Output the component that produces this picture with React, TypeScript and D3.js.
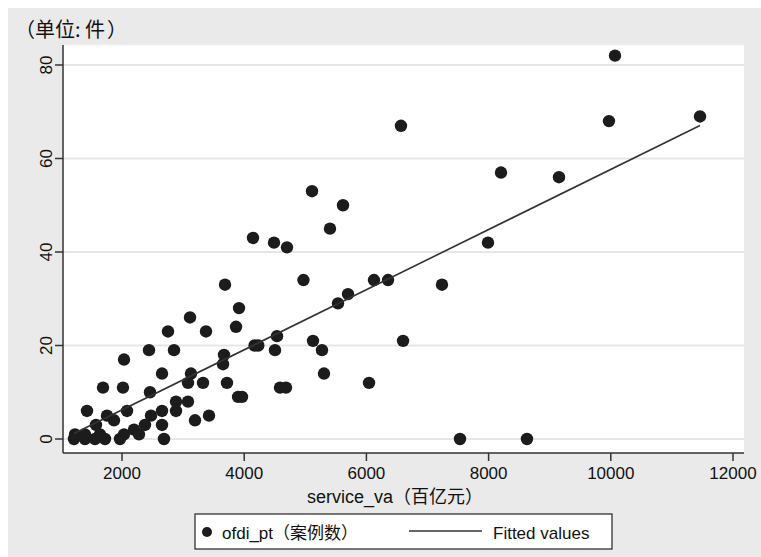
import React from 'react';
import * as d3 from 'd3';

// service_va (百亿元) and ofdi_pt (案例数)
const serviceVa = [
  1214, 1231, 1394, 1394, 1558, 1574, 1640, 1722, 1427, 1689,
  1754, 1869, 1967, 2033, 2016, 2033, 2082, 2196, 2278, 2376,
  2458, 2475, 2442, 2655, 2655, 2655, 2687, 2753, 2851, 2884,
  2884, 3080, 3080, 3129, 3113, 3195, 3326, 3375, 3424, 3653,
  3669, 3686, 3718, 3866, 3900, 3964, 3915, 4144, 4170, 4230,
  4488, 4504, 4537, 4586, 4684, 4700, 4970, 5110, 5126, 5273,
  5306, 5404, 5535, 5617, 5699, 6043, 6124, 6354, 6566, 6600,
  7237, 7532, 7990, 8203, 8628, 9152, 9970, 10069, 11460,
];
const ofdiPt = [
  0, 1, 0, 1, 0, 3, 1, 0, 6, 11,
  5, 4, 0, 1, 11, 17, 6, 2, 1, 3,
  10, 5, 19, 3, 6, 14, 0, 23, 19, 8,
  6, 8, 12, 14, 26, 4, 12, 23, 5, 16,
  18, 33, 12, 24, 9, 9, 28, 43, 20, 20,
  42, 19, 22, 11, 11, 41, 34, 53, 21, 19,
  14, 45, 29, 50, 31, 12, 34, 34, 67, 21,
  33, 0, 42, 57, 0, 56, 68, 82, 69,
];

const xTicks = [2000, 4000, 6000, 8000, 10000, 12000];
const yTicks = [0, 20, 40, 60, 80];

const W = 761;
const H = 557;
const plot = { left: 63, right: 744, top: 45, bottom: 453 };
const font = '"Liberation Sans", Arial, sans-serif';
const cjk = '"Noto Sans CJK SC", sans-serif';

export default function App() {
  const x = d3.scaleLinear().domain([2000, 12000]).range([122, 733]);
  const y = d3.scaleLinear().domain([0, 80]).range([439, 65]);

  // linear fit (Stata lfit)
  const mx = d3.mean(serviceVa)!;
  const my = d3.mean(ofdiPt)!;
  let sxy = 0;
  let sxx = 0;
  serviceVa.forEach((v, i) => {
    sxy += (v - mx) * (ofdiPt[i] - my);
    sxx += (v - mx) * (v - mx);
  });
  const slope = sxy / sxx;
  const icpt = my - slope * mx;
  const [x0, x1] = d3.extent(serviceVa) as [number, number];
  const fitLine = d3.line<number>()
    .x(d => x(d))
    .y(d => y(icpt + slope * d))([x0, x1]);

  return (
    <svg width={W} height={H} style={{ position: 'absolute', left: 0, top: 0 }}>
      <rect x={0} y={0} width={W} height={H} fill="#ffffff" />
      <rect x={8} y={8} width={W - 8} height={H - 8} fill="#eaeaea" />
      <rect x={plot.left} y={plot.top} width={plot.right - plot.left} height={plot.bottom - plot.top} fill="#ffffff" />

      {yTicks.map(t => (
        <line key={'g' + t} x1={plot.left} x2={plot.right} y1={y(t)} y2={y(t)} stroke="#e6e6e6" strokeWidth={2} />
      ))}

      {/* axes */}
      <line x1={plot.left} x2={plot.left} y1={plot.top} y2={plot.bottom} stroke="#333" strokeWidth={1.5} />
      <line x1={plot.left} x2={plot.right} y1={plot.bottom} y2={plot.bottom} stroke="#333" strokeWidth={1.5} />

      {yTicks.map(t => (
        <g key={'y' + t}>
          <line x1={plot.left - 8} x2={plot.left} y1={y(t)} y2={y(t)} stroke="#333" strokeWidth={1.5} />
          <text
            transform={`translate(52,${y(t)}) rotate(-90)`}
            textAnchor="middle"
            fontFamily={font}
            fontSize={17}
            fill="#111"
          >{t}</text>
        </g>
      ))}

      {xTicks.map(t => (
        <g key={'x' + t}>
          <line x1={x(t)} x2={x(t)} y1={plot.bottom} y2={plot.bottom + 8} stroke="#333" strokeWidth={1.5} />
          <text x={x(t)} y={479} textAnchor="middle" fontFamily={font} fontSize={17} fill="#111">{t}</text>
        </g>
      ))}

      {serviceVa.map((v, i) => (
        <circle key={i} cx={x(v)} cy={y(ofdiPt[i])} r={6.2} fill="#1c1c1c" />
      ))}

      <path d={fitLine ?? ''} fill="none" stroke="#333" strokeWidth={1.6} />

      <text x={15} y={37} fontFamily={cjk} fontSize={20} fill="#111">
        <tspan>（</tspan>
        <tspan>单位: 件</tspan>
        <tspan dx={2}>）</tspan>
      </text>
      <text x={395} y={503} textAnchor="middle" fontSize={18} fill="#111">
        <tspan fontFamily={font}>service_va</tspan>
        <tspan fontFamily={cjk}>（百亿元）</tspan>
      </text>

      {/* legend */}
      <rect x={195} y={514} width={417} height={35} fill="#ffffff" stroke="#222" strokeWidth={1.2} />
      <circle cx={207} cy={532} r={5} fill="#1c1c1c" />
      <text x={222} y={539} fontSize={17} fill="#111">
        <tspan fontFamily={font}>ofdi_pt</tspan>
        <tspan fontFamily={cjk}>（案例数）</tspan>
      </text>
      <line x1={409} x2={482} y1={531} y2={531} stroke="#333" strokeWidth={1.6} />
      <text x={493} y={539} fontFamily={font} fontSize={17} fill="#111">Fitted values</text>
    </svg>
  );
}
